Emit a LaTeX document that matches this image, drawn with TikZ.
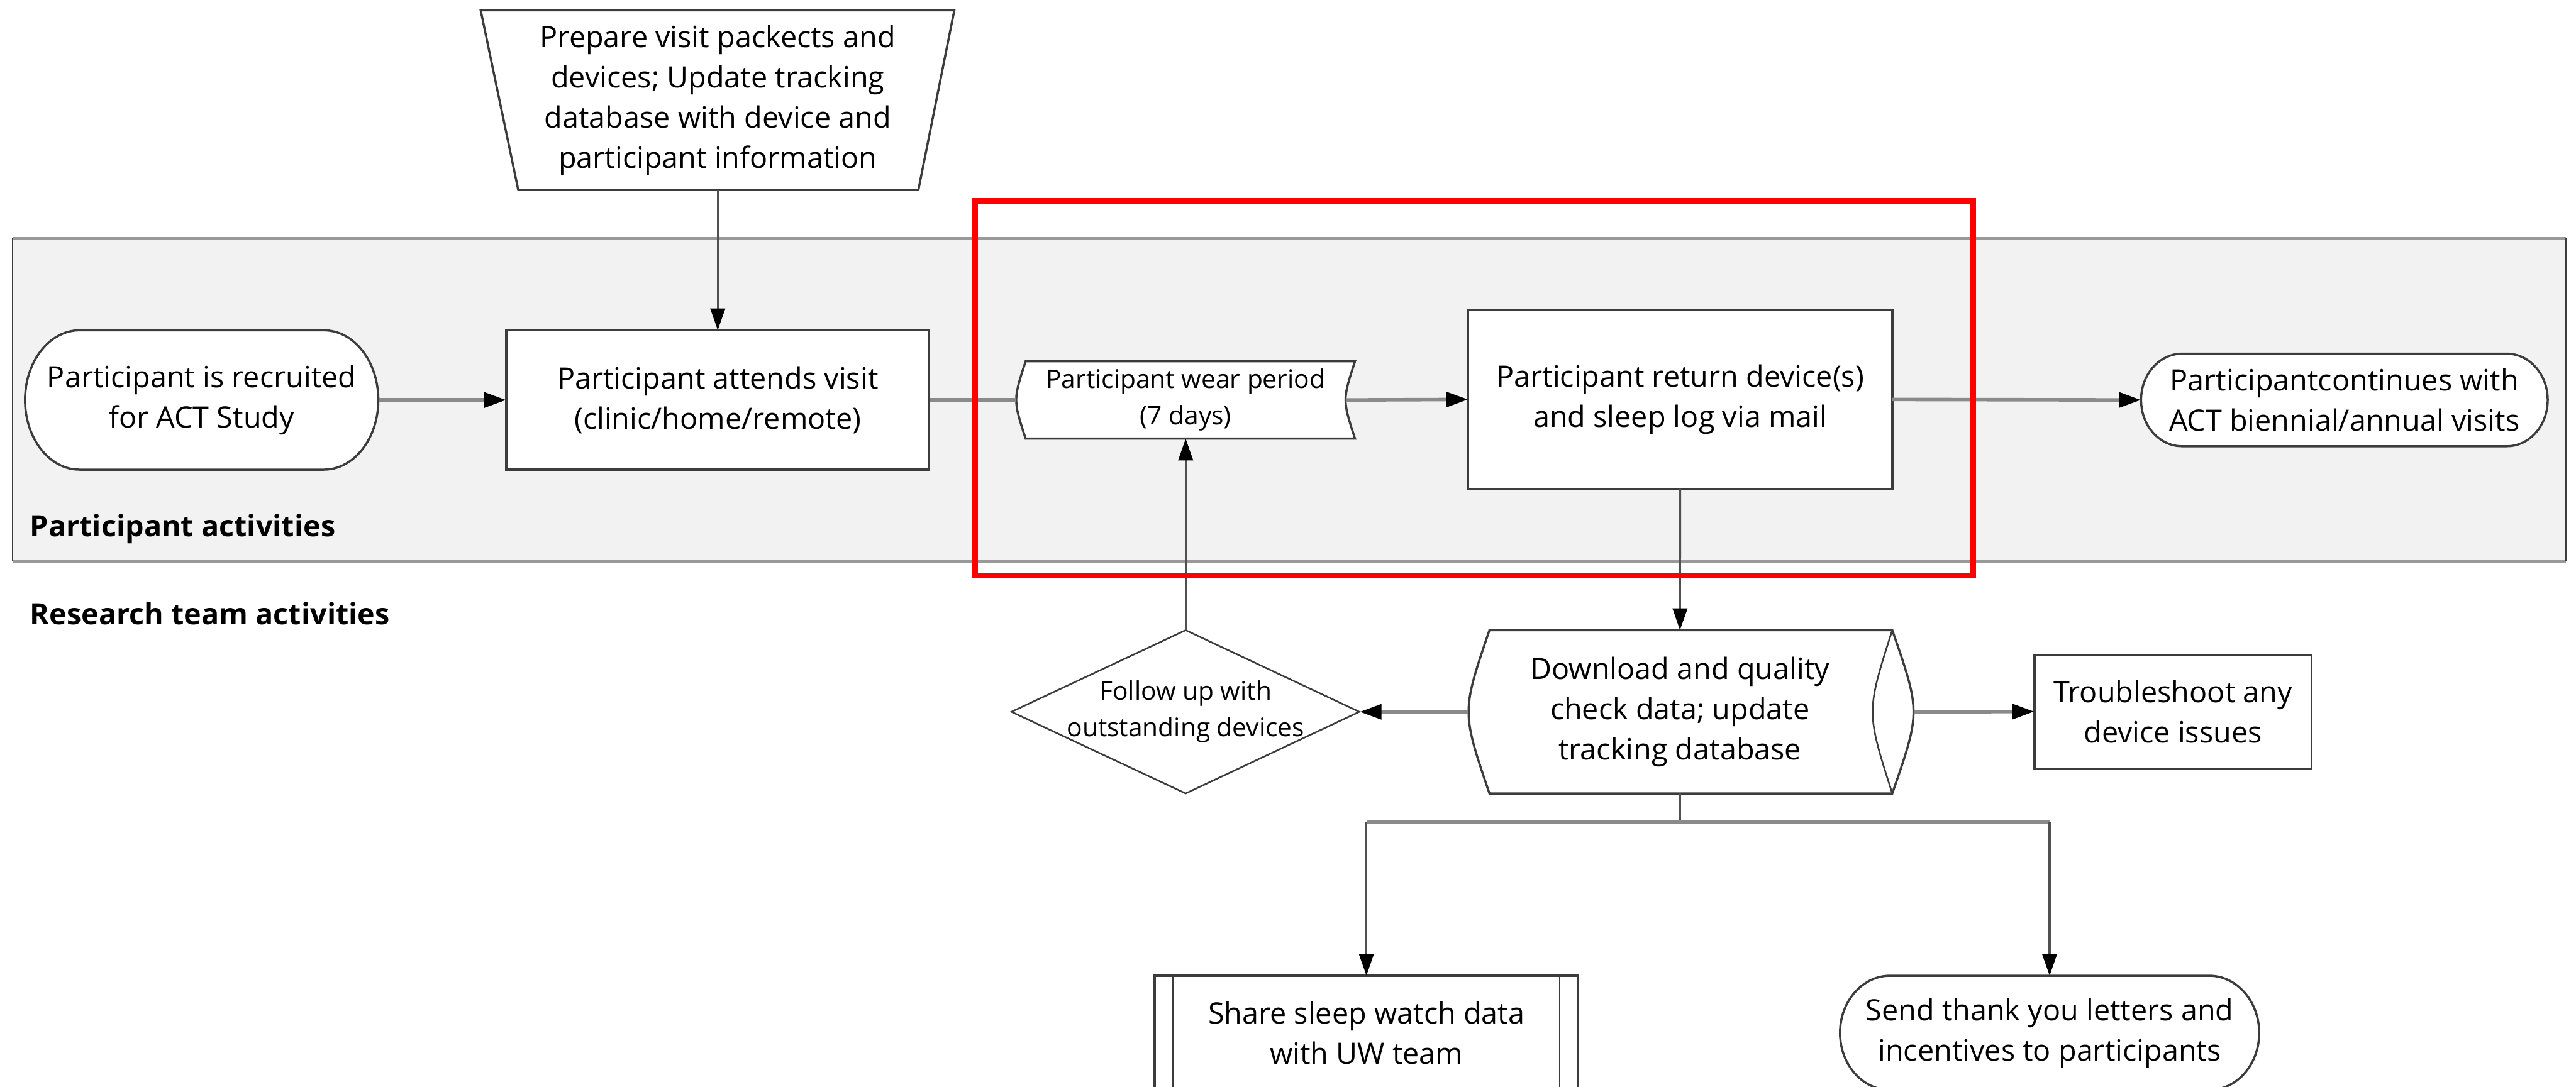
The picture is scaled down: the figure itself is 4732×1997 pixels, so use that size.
\documentclass[tikz,border=0pt]{standalone}
\usepackage{fontspec}
\setmainfont{Open Sans}
\usetikzlibrary{arrows.meta}
\definecolor{lanefill}{HTML}{F2F2F2}
\definecolor{laneedge}{HTML}{999999}
\definecolor{shpedge}{HTML}{3C3C3C}
\definecolor{hconnc}{HTML}{8A8A8A}
\definecolor{vconnc}{HTML}{505050}
\tikzset{
  shp/.style={draw=shpedge, line width=4pt, fill=white, line join=miter},
  txt/.style={inner sep=0pt, align=center, text=black, font=\fontsize{54}{74}\selectfont},
  smalltxt/.style={inner sep=0pt, align=center, text=black, font=\fontsize{47}{67}\selectfont},
  lab/.style={inner sep=0pt, text=black, font=\bfseries\fontsize{54}{66}\selectfont},
  hconn/.style={draw=hconnc, line width=6.5pt},
  vconn/.style={draw=vconnc, line width=3.5pt},
  tip/.style={-{Triangle[length=40pt,width=27pt,color=black]}},
  harr/.style={hconn, tip},
  varr/.style={vconn, tip},
}
\begin{document}
\begin{tikzpicture}[x=1pt,y=-1pt]
\useasboundingbox (0,0) rectangle (4732,1997);
\clip (0,0) rectangle (4732,1997);
\fill[white] (0,0) rectangle (4732,1997);

% swim lane
\fill[lanefill] (23,438) rectangle (4714,1031);
\draw[laneedge, line width=6pt] (23,438) -- (4714,438);
\draw[laneedge, line width=6pt] (23,1031) -- (4714,1031);
\draw[shpedge, line width=3pt] (23,438) -- (23,1031);
\draw[shpedge, line width=3pt] (4714,438) -- (4714,1031);
\node[lab, anchor=base west] (plabel) at (55,986) {Participant activities};
\node[lab, anchor=base west] (rlabel) at (55,1148) {Research team activities};

% prepare (manual operation trapezoid)
\path[shp] (883,19) -- (1753,19) -- (1687,349) -- (952,349) -- cycle;
\node[txt, minimum width=870pt, minimum height=330pt] (prep) at (1318.5,184)
  {Prepare visit packects and\\devices; Update tracking\\database with device and\\participant information};

% recruited (terminal)
\path[shp] (146,607) -- (595,607) arc[start angle=90, end angle=-90, x radius=100pt, y radius=128pt]
  -- (146,863) arc[start angle=270, end angle=90, x radius=100pt, y radius=128pt] -- cycle;
\node[txt, minimum width=649pt, minimum height=256pt] (recruit) at (370.5,735)
  {Participant is recruited\\for ACT Study};

% attends visit
\path[shp] (930,607) rectangle (1707,863);
\node[txt, minimum width=777pt, minimum height=256pt] (visit) at (1318.5,735)
  {Participant attends visit\\(clinic/home/remote)};

% wear period (stored data)
\path[shp] (1884,664) -- (2489,664) .. controls (2466,735) .. (2489,806)
  -- (1884,806) .. controls (1861,735) .. (1884,664) -- cycle;
\node[smalltxt, minimum width=622pt, minimum height=142pt] (wear) at (2178,735)
  {Participant wear period\\(7 days)};

% return device
\path[shp] (2697,570) rectangle (3476,898);
\node[txt, minimum width=779pt, minimum height=328pt] (return) at (3086.5,734)
  {Participant return device(s)\\and sleep log via mail};

% continues (terminal)
\path[shp] (4008,650) -- (4605,650) arc[start angle=90, end angle=-90, x radius=75pt, y radius=85pt]
  -- (4008,820) arc[start angle=270, end angle=90, x radius=75pt, y radius=85pt] -- cycle;
\node[txt, minimum width=747pt, minimum height=170pt] (cont) at (4306.5,735)
  {Participantcontinues with\\ACT biennial/annual visits};

% follow up (decision)
\path[shp, line width=3pt] (2178,1158) -- (2497,1308) -- (2178,1458) -- (1858,1308) -- cycle;
\node[smalltxt, minimum width=639pt, minimum height=300pt] (follow) at (2178,1308)
  {Follow up with\\outstanding devices};

% download (direct access storage)
\path[shp] (2736,1158) -- (3476,1158) .. controls (3528,1308) .. (3476,1458)
  -- (2736,1458) .. controls (2685,1308) .. (2736,1158) -- cycle;
\draw[shpedge, line width=3pt] (3476,1158) .. controls (3428,1308) .. (3476,1458);
\node[txt, minimum width=780pt, minimum height=300pt] (dl) at (3086,1308)
  {Download and quality\\check data; update\\tracking database};

% troubleshoot
\path[shp] (3737,1203) rectangle (4246,1412);
\node[txt, minimum width=509pt, minimum height=209pt] (trouble) at (3991.5,1307.5)
  {Troubleshoot any\\device issues};

% share (predefined process)
\path[shp] (2121,1793) rectangle (2899,2003);
\draw[shpedge, line width=3pt] (2155,1793) -- (2155,2003);
\draw[shpedge, line width=3pt] (2865,1793) -- (2865,2003);
\node[txt, minimum width=778pt, minimum height=210pt] (share) at (2510,1898)
  {Share sleep watch data\\with UW team};

% send (terminal)
\path[shp] (3472,1793) -- (4058,1793) arc[start angle=90, end angle=-90, x radius=92pt, y radius=105pt]
  -- (3472,2003) arc[start angle=270, end angle=90, x radius=92pt, y radius=105pt] -- cycle;
\node[txt, minimum width=770pt, minimum height=210pt] (send) at (3765,1898)
  {Send thank you letters and\\incentives to participants};

% connectors
\draw[varr] (prep.south) -- (visit.north);
\draw[harr] (recruit.east) -- (visit.west);
\draw[hconn] (visit.east) -- (wear.west);
\draw[harr] ([xshift=-17pt]wear.east) -- (return.west);
\draw[harr] (return.east) -- (cont.west);
\draw[varr] (follow.north) -- (wear.south);
\draw[varr] (return.south) -- (dl.north);
\draw[harr] (dl.west) -- (follow.east);
\draw[harr] ([xshift=39pt]dl.east) -- (trouble.west);
\draw[vconn] (dl.south) -- ++(0,52) coordinate (fork);
\coordinate (forkl) at (share.north |- fork);
\coordinate (forkr) at (send.north |- fork);
\draw[hconn] (forkl) -- (forkr);
\draw[varr] (forkl) -- (share.north);
\draw[varr] (forkr) -- (send.north);

% highlight
\draw[red, line width=10pt] (1791,369) rectangle (3625,1057);
\end{tikzpicture}
\end{document}
